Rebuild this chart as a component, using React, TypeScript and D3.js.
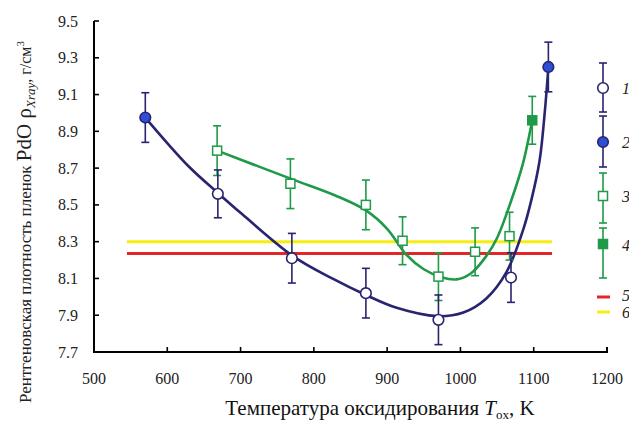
import React, { useEffect, useRef } from 'react';
import * as d3 from 'd3';

// axis ticks
const xTicks = [500, 600, 700, 800, 900, 1000, 1100, 1200];
const yTicks = [7.7, 7.9, 8.1, 8.3, 8.5, 8.7, 8.9, 9.1, 9.3, 9.5];

// series 1: open circles
const s1T = [669, 770, 871, 970, 1069];
const s1Rho = [8.56, 8.21, 8.02, 7.875, 8.105];
const s1Err = [0.13, 0.135, 0.135, 0.135, 0.135];

// series 2: filled circles
const s2T = [570, 1120];
const s2Rho = [8.975, 9.25];
const s2Err = [0.135, 0.135];

// series 3: open squares
const s3T = [668, 768, 871, 921, 970, 1020, 1067];
const s3Rho = [8.795, 8.615, 8.5, 8.305, 8.11, 8.245, 8.33];
const s3Err = [0.135, 0.135, 0.135, 0.13, 0.13, 0.13, 0.13];

// series 4: filled square
const s4T = [1098];
const s4Rho = [8.96];
const s4Err = [0.13];

// fitted curves
const fitATs = [570, 629, 669, 702, 772, 825, 871, 913, 968, 1004, 1035, 1063, 1086, 1097, 1108, 1115, 1120];
const fitARho = [8.975, 8.71, 8.565, 8.45, 8.22, 8.1, 8.01, 7.94, 7.895, 7.915, 7.99, 8.136, 8.37, 8.53, 8.74, 9.0, 9.25];
const fitBTs = [668, 770, 830, 871, 900, 926, 950, 975, 995, 1015, 1035, 1050, 1069, 1085, 1098];
const fitBRho = [8.795, 8.64, 8.55, 8.47, 8.37, 8.23, 8.15, 8.105, 8.095, 8.13, 8.22, 8.32, 8.52, 8.72, 8.96];

// reference levels 5 and 6
const ref5 = 8.235;
const ref6 = 8.3;
const refRange = [545, 1125];

const navy = '#28246f';
const blue = '#2d4fd6';
const green = '#1e9a48';
const red = '#e3262a';
const yellow = '#f6ee12';
const serif = '"Liberation Serif", "DejaVu Serif", serif';

const App: React.FC = () => {
  const svgRef = useRef<SVGSVGElement>(null);

  useEffect(() => {
    if (!svgRef.current) return;
    const svg = d3.select(svgRef.current);
    svg.selectAll('*').remove();

    const x = d3.scaleLinear().domain([500, 1200]).range([94, 607]);
    const y = d3.scaleLinear().domain([7.7, 9.5]).range([352, 21]);

    // reference lines
    [[ref6, yellow], [ref5, red]].forEach(([v, c]) => {
      svg.append('line')
        .attr('x1', x(refRange[0])).attr('x2', x(refRange[1]))
        .attr('y1', y(v as number)).attr('y2', y(v as number))
        .attr('stroke', c as string).attr('stroke-width', 3);
    });

    // fitted curves
    const line = d3.line<[number, number]>()
      .x(d => x(d[0])).y(d => y(d[1]))
      .curve(d3.curveCatmullRom.alpha(0.5));
    svg.append('path')
      .attr('d', line(fitBTs.map((t, i) => [t, fitBRho[i]]))!)
      .attr('fill', 'none').attr('stroke', green).attr('stroke-width', 2.6);
    svg.append('path')
      .attr('d', line(fitATs.map((t, i) => [t, fitARho[i]]))!)
      .attr('fill', 'none').attr('stroke', navy).attr('stroke-width', 2.6);

    // error bars
    const errBars = (ts: number[], vals: number[], errs: number[], color: string) => {
      ts.forEach((t, i) => {
        const g = svg.append('g').attr('stroke', color).attr('stroke-width', 1.6);
        const cx = x(t);
        const top = y(vals[i] + errs[i]);
        const bot = y(vals[i] - errs[i]);
        g.append('line').attr('x1', cx).attr('x2', cx).attr('y1', top).attr('y2', bot);
        g.append('line').attr('x1', cx - 4).attr('x2', cx + 4).attr('y1', top).attr('y2', top);
        g.append('line').attr('x1', cx - 4).attr('x2', cx + 4).attr('y1', bot).attr('y2', bot);
      });
    };
    errBars(s3T, s3Rho, s3Err, green);
    errBars(s4T, s4Rho, s4Err, green);
    errBars(s1T, s1Rho, s1Err, navy);
    errBars(s2T, s2Rho, s2Err, navy);

    // markers
    const circles = (ts: number[], vals: number[], fill: string) => {
      ts.forEach((t, i) => {
        svg.append('circle').attr('cx', x(t)).attr('cy', y(vals[i])).attr('r', 5.3)
          .attr('fill', fill).attr('stroke', navy).attr('stroke-width', 1.6);
      });
    };
    const squares = (ts: number[], vals: number[], fill: string) => {
      ts.forEach((t, i) => {
        svg.append('rect').attr('x', x(t) - 4.5).attr('y', y(vals[i]) - 4.5)
          .attr('width', 9).attr('height', 9)
          .attr('fill', fill).attr('stroke', green).attr('stroke-width', 1.5);
      });
    };
    squares(s3T, s3Rho, '#fff');
    squares(s4T, s4Rho, green);
    circles(s1T, s1Rho, '#fff');
    circles(s2T, s2Rho, blue);

    // axes
    svg.append('path')
      .attr('d', `M${x(500)},${y(9.5)}V${y(7.7)}H${x(1200)}V${y(7.7) - 5}`)
      .attr('fill', 'none').attr('stroke', '#000').attr('stroke-width', 2);
    yTicks.filter(v => v > 7.7).forEach(v => {
      svg.append('line').attr('x1', x(500)).attr('x2', x(500) + 5)
        .attr('y1', y(v)).attr('y2', y(v)).attr('stroke', '#000').attr('stroke-width', 1.6);
    });
    xTicks.filter(v => v > 500 && v < 1200).forEach(v => {
      svg.append('line').attr('x1', x(v)).attr('x2', x(v))
        .attr('y1', y(7.7)).attr('y2', y(7.7) - 5).attr('stroke', '#000').attr('stroke-width', 1.6);
    });

    svg.selectAll('.ylab').data(yTicks).enter().append('text')
      .attr('x', 78).attr('y', d => y(d)).attr('dy', '0.35em')
      .attr('text-anchor', 'end').attr('font-family', serif).attr('font-size', 16)
      .attr('fill', '#222').text(d => d.toFixed(1));
    svg.selectAll('.xlab').data(xTicks).enter().append('text')
      .attr('x', d => x(d)).attr('y', 378).attr('dy', '0.35em')
      .attr('text-anchor', 'middle').attr('font-family', serif).attr('font-size', 16)
      .attr('fill', '#222').text(d => d);

    // x title
    const xt = svg.append('text').attr('x', 380).attr('y', 415)
      .attr('text-anchor', 'middle').attr('font-family', serif).attr('font-size', 21).attr('fill', '#111');
    xt.append('tspan').text('Температура оксидирования ');
    xt.append('tspan').attr('font-style', 'italic').text('T');
    xt.append('tspan').attr('font-size', 13).attr('dy', 4).text('ox');
    xt.append('tspan').attr('dy', -4).text(', K');

    // y title
    const yt = svg.append('text').attr('transform', 'translate(31,222) rotate(-90)')
      .attr('text-anchor', 'middle').attr('font-family', serif).attr('font-size', 17).attr('fill', '#222');
    yt.append('tspan').text('Рентгеновская плотность пленок ');
    yt.append('tspan').attr('font-size', 21).text('PdO ρ');
    yt.append('tspan').attr('font-size', 13).attr('font-style', 'italic').attr('dy', 4).text('Xray');
    yt.append('tspan').attr('dy', -4).attr('font-size', 16).text(', г/см');
    yt.append('tspan').attr('font-size', 11).attr('dy', -7).text('3');

    // legend
    const lx = 603;
    const legErr = (top: number, bot: number, color: string) => {
      const g = svg.append('g').attr('stroke', color).attr('stroke-width', 1.6);
      g.append('line').attr('x1', lx).attr('x2', lx).attr('y1', top).attr('y2', bot);
      g.append('line').attr('x1', lx - 4).attr('x2', lx + 4).attr('y1', top).attr('y2', top);
      g.append('line').attr('x1', lx - 4).attr('x2', lx + 4).attr('y1', bot).attr('y2', bot);
    };
    legErr(63, 112, navy);
    svg.append('circle').attr('cx', lx).attr('cy', 88).attr('r', 5.3).attr('fill', '#fff').attr('stroke', navy).attr('stroke-width', 1.6);
    legErr(116, 167, navy);
    svg.append('circle').attr('cx', lx).attr('cy', 142).attr('r', 5.3).attr('fill', blue).attr('stroke', navy).attr('stroke-width', 1.6);
    legErr(173, 223, green);
    svg.append('rect').attr('x', lx - 4.5).attr('y', 191.5).attr('width', 9).attr('height', 9).attr('fill', '#fff').attr('stroke', green).attr('stroke-width', 1.5);
    legErr(228, 278, green);
    svg.append('rect').attr('x', lx - 4.5).attr('y', 239.5).attr('width', 9).attr('height', 9).attr('fill', green).attr('stroke', green).attr('stroke-width', 1.5);
    svg.append('line').attr('x1', 597).attr('x2', 610).attr('y1', 297).attr('y2', 297).attr('stroke', red).attr('stroke-width', 3);
    svg.append('line').attr('x1', 597).attr('x2', 610).attr('y1', 312).attr('y2', 312).attr('stroke', yellow).attr('stroke-width', 3);
    const legLabels = ['1', '2', '3', '4', '5', '6'];
    const legY = [88, 142, 196, 245, 295, 312];
    legLabels.forEach((l, i) => {
      svg.append('text').attr('x', 622).attr('y', legY[i]).attr('dy', '0.35em')
        .attr('font-family', serif).attr('font-style', 'italic').attr('font-size', 16)
        .attr('fill', '#222').text(l);
    });
  }, []);

  return (
    <svg
      ref={svgRef}
      width={629}
      height={426}
      style={{ position: 'absolute', left: 0, top: 0, background: '#fff' }}
    />
  );
};

export default App;
